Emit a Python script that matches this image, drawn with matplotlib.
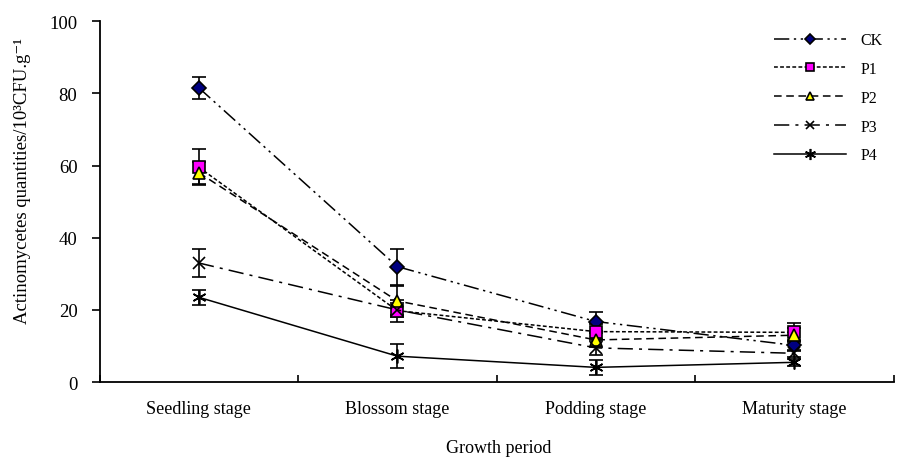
import matplotlib.pyplot as plt
import numpy as np

plt.rcParams['font.family'] = ['Liberation Serif', 'DejaVu Serif']

stages = ['Seedling stage', 'Blossom stage', 'Podding stage', 'Maturity stage']
ck = [81.5, 32.0, 16.8, 10.2]
p1 = [59.5, 19.8, 14.0, 13.8]
p2 = [58.0, 22.5, 11.7, 13.0]
p3 = [33.0, 20.0, 9.5, 8.0]
p4 = [23.5, 7.2, 4.1, 5.5]
ck_err = [3.0, 5.0, 2.5, 1.5]
p1_err = [5.0, 3.0, 2.0, 2.5]
p2_err = [3.0, 4.0, 2.0, 2.0]
p3_err = [4.0, 2.0, 2.0, 1.0]
p4_err = [2.0, 3.4, 2.0, 1.0]

x = np.arange(1, len(stages) + 1)

fig = plt.figure(figsize=(8.98, 4.6), dpi=100)
ax = fig.add_axes([0.111, 0.167, 0.884, 0.785])

styles = [
    ('CK', ck, ck_err, (0, (10, 3, 1.5, 3, 1.5, 3)), 'D', '#000080', 7),
    ('P1', p1, p1_err, (0, (2.5, 1.5)), 's', '#ff00ff', 8),
    ('P2', p2, p2_err, (0, (5, 3)), '^', '#ffff00', 8),
    ('P3', p3, p3_err, (0, (10, 4, 2, 4)), 'x', 'k', 8),
    ('P4', p4, p4_err, '-', (6, 2, 0), 'k', 10),
]
for name, vals, err, ls, mk, fc, ms in styles:
    ax.errorbar(x, vals, yerr=err, fmt='none', ecolor='k', elinewidth=1.2,
                capsize=5, capthick=1.2, zorder=2)
    ax.plot(x, vals, linestyle=ls, color='k', linewidth=1.1, marker=mk,
            markerfacecolor=fc, markeredgecolor='k', markeredgewidth=1.2,
            markersize=ms, label=name, zorder=3)

ax.set_xlim(0.5, 4.5)
ax.set_ylim(0, 100)
ax.set_yticks(np.arange(0, 101, 20))
ax.set_xticks(x)
ax.set_xticklabels(stages, fontsize=13)
ax.set_xticks(np.arange(0.5, 4.6, 1), minor=True)
ax.tick_params(axis='x', which='major', length=0, pad=13)
ax.tick_params(axis='x', which='minor', direction='in', length=5, width=1.2)
ax.tick_params(axis='y', direction='out', length=6, width=1.2, labelsize=13.5, pad=10)
for s in ['top', 'right']:
    ax.spines[s].set_visible(False)
for s in ['left', 'bottom']:
    ax.spines[s].set_linewidth(1.3)

fig.text(0.555, 0.026, 'Growth period', fontsize=13, ha='center', va='center')
ax.set_ylabel('Actinomycetes quantities/10³CFU.g⁻¹', fontsize=13.5)
ax.yaxis.set_label_coords(-0.087, 0.56)

ax.legend(loc='upper right', bbox_to_anchor=(1.0, 1.0), frameon=False,
          fontsize=11.5, handlelength=4.5, labelspacing=0.8, handletextpad=0.9,
          borderaxespad=0.3, markerscale=0.8)

fig.savefig('out.png', dpi=100)
